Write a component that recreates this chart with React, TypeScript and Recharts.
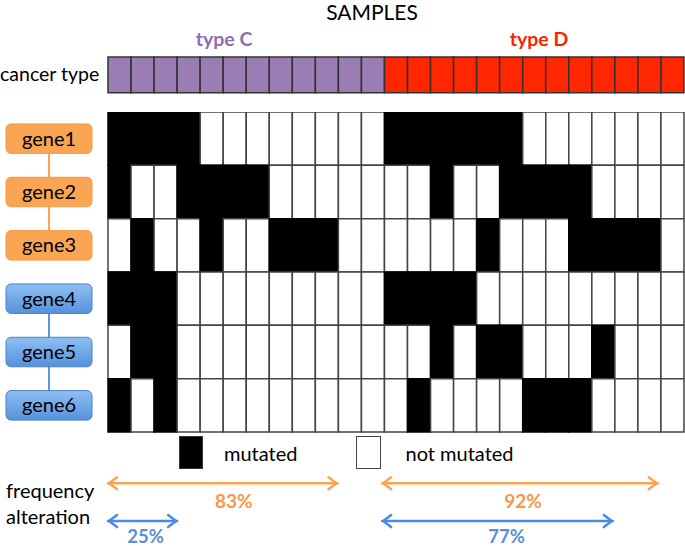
import { BarChart, Bar, Cell, XAxis, YAxis, ReferenceLine, Legend } from "recharts";

const FONT = "Lato, 'Open Sans', sans-serif";

const sampleIds = [
  "C1", "C2", "C3", "C4", "C5", "C6", "C7", "C8", "C9", "C10", "C11", "C12",
  "D1", "D2", "D3", "D4", "D5", "D6", "D7", "D8", "D9", "D10", "D11", "D12", "D13",
];
const cancerTypes = [
  "C", "C", "C", "C", "C", "C", "C", "C", "C", "C", "C", "C",
  "D", "D", "D", "D", "D", "D", "D", "D", "D", "D", "D", "D", "D",
];
const genes = ["gene1", "gene2", "gene3", "gene4", "gene5", "gene6"];
const geneGroups = ["A", "A", "A", "B", "B", "B"];

// 1 = mutated, 0 = not mutated (12 type C samples, then 13 type D)
const gene1 = [1, 1, 1, 1, 0, 0, 0, 0, 0, 0, 0, 0, 1, 1, 1, 1, 1, 1, 0, 0, 0, 0, 0, 0, 0];
const gene2 = [1, 0, 0, 1, 1, 1, 1, 0, 0, 0, 0, 0, 0, 0, 1, 0, 0, 1, 1, 1, 1, 0, 0, 0, 0];
const gene3 = [0, 1, 0, 0, 1, 0, 0, 1, 1, 1, 0, 0, 0, 0, 0, 0, 1, 0, 0, 0, 1, 1, 1, 1, 0];
const gene4 = [1, 1, 1, 0, 0, 0, 0, 0, 0, 0, 0, 0, 1, 1, 1, 1, 0, 0, 0, 0, 0, 0, 0, 0, 0];
const gene5 = [0, 1, 1, 0, 0, 0, 0, 0, 0, 0, 0, 0, 0, 0, 1, 0, 1, 1, 0, 0, 0, 1, 0, 0, 0];
const gene6 = [1, 0, 1, 0, 0, 0, 0, 0, 0, 0, 0, 0, 0, 1, 0, 0, 0, 0, 1, 1, 1, 0, 0, 0, 0];
const mutations = [gene1, gene2, gene3, gene4, gene5, gene6];

// alteration frequency per cancer type (%)
const freqTypes = ["C", "D"];
const freqGroupA = [83, 92];
const freqGroupB = [25, 77];

const W = 685;
const H = 546;
const M_TOP = 112;
const M_BOTTOM = 7.3;
const Y_MAX = 8;
const ROW_PX = (H - M_TOP - M_BOTTOM) / Y_MAX;

const ORANGE = "#f9a553";
const ORANGE_TXT = "#f7984a";
const BLUE = "#4c89ea";
const BLUE_TXT = "#5b8fd8";
const typeFill: Record<string, string> = { C: "#9a7db5", D: "#ff2600" };

// label nudges for the percentage texts (px)
const shiftA = [11, 3];
const shiftB = [3, 9];

const data = sampleIds.map((id, i) => {
  const row: any = { id, type: cancerTypes[i], one: 1 };
  genes.forEach((_, g) => {
    row[`r${g}`] = 1;
    row[`m${g}`] = mutations[g][i];
  });
  return row;
});

const groupStart = (t: string) => cancerTypes.indexOf(t) - (t === "C" ? 0 : 0.1);
const groupSize = (t: string) => cancerTypes.filter((c) => c === t).length;

const arrowShape = (color: string) => (props: any) => {
  const { x1, y1, x2, y2 } = props;
  const h = 9;
  const w = 6;
  return (
    <g stroke={color} strokeWidth={2.5} fill="none" strokeLinecap="round" strokeLinejoin="round">
      <line x1={x1} y1={y1} x2={x2} y2={y2} />
      <polyline points={`${x1 + h},${y1 - w} ${x1 + 1},${y1} ${x1 + h},${y1 + w}`} />
      <polyline points={`${x2 - h},${y2 - w} ${x2 - 1},${y2} ${x2 - h},${y2 + w}`} />
    </g>
  );
};

const GeneTick = (props: any) => {
  const { x, y, payload } = props;
  const gi = Math.floor(payload.value);
  const group = geneGroups[gi];
  const isA = group === "A";
  const bw = 86;
  const bh = 29.5;
  const cx = x - bw / 2;
  const sameNext = gi + 1 < genes.length && geneGroups[gi + 1] === group;
  const gid = `gb${gi}`;
  return (
    <g>
      <defs>
        <linearGradient id={gid} x1="0" y1="0" x2="0" y2="1">
          <stop offset="0%" stopColor="#8fbff3" />
          <stop offset="100%" stopColor="#5592dc" />
        </linearGradient>
      </defs>
      {sameNext && (
        <line
          x1={cx}
          y1={y}
          x2={cx}
          y2={y + ROW_PX}
          stroke={isA ? ORANGE : "#5d96d9"}
          strokeWidth={2}
        />
      )}
      <rect
        x={x - bw}
        y={y - bh / 2}
        width={bw}
        height={bh}
        rx={5}
        fill={isA ? ORANGE : `url(#${gid})`}
        stroke={isA ? "#f29a48" : "#4a82c8"}
        strokeWidth={1}
      />
      <text x={cx} y={y + 7} textAnchor="middle" fontSize={20} fontFamily={FONT} fill="#000">
        {genes[gi]}
      </text>
    </g>
  );
};

const MutationLegend = () => (
  <div style={{ display: "flex", alignItems: "center", fontFamily: FONT, fontSize: 20, color: "#000" }}>
    <div style={{ width: 24, height: 33, background: "#000", boxSizing: "border-box", border: "1px solid #333" }} />
    <span style={{ marginLeft: 21, marginRight: 59 }}>mutated</span>
    <div style={{ width: 25, height: 33, background: "#fff", boxSizing: "border-box", border: "1.5px solid #444" }} />
    <span style={{ marginLeft: 24 }}>not mutated</span>
  </div>
);

export default function App() {
  return (
    <div style={{ position: "absolute", left: 0, top: 0, width: W, height: H, background: "#fff", fontFamily: FONT }}>
      <div style={{ position: "absolute", left: 0, top: 0 }}>
        <BarChart
          width={W}
          height={100}
          data={data}
          margin={{ top: 57, right: 1, bottom: 7.3, left: 108 }}
          barCategoryGap={0}
          barGap={0}
        >
          <XAxis dataKey="id" hide />
          <YAxis hide domain={[0, 1]} />
          <Bar dataKey="one" stroke="#333" strokeWidth={1.5} isAnimationActive={false}>
            {data.map((d) => (
              <Cell key={d.id} fill={typeFill[d.type]} />
            ))}
          </Bar>
        </BarChart>
      </div>
      <div style={{ position: "absolute", left: 0, top: 0 }}>
        <BarChart
          width={W}
          height={H}
          data={data}
          margin={{ top: M_TOP, right: 1, bottom: M_BOTTOM, left: 0 }}
          barCategoryGap={0}
          barGap={0}
        >
          <XAxis dataKey="id" hide />
          <XAxis
            xAxisId="n"
            dataKey="one"
            type="number"
            domain={[0, sampleIds.length]}
            allowDataOverflow
            hide
          />
          <YAxis
            type="number"
            reversed
            domain={[0, Y_MAX]}
            allowDataOverflow
            width={108}
            ticks={genes.map((_, i) => i + 0.5)}
            interval={0}
            axisLine={false}
            tickLine={false}
            tickSize={0}
            tickMargin={16}
            tick={<GeneTick />}
          />
          {genes.map((g, gi) => (
            <Bar
              key={g}
              dataKey={`r${gi}`}
              stackId="m"
              strokeWidth={1.5}
              isAnimationActive={false}
            >
              {data.map((d) => (
                <Cell
                  key={d.id}
                  fill={d[`m${gi}`] ? "#000" : "#fff"}
                  stroke={d[`m${gi}`] ? "#000" : "#444"}
                />
              ))}
            </Bar>
          ))}
          {freqTypes.map((t, i) => {
            const x0 = groupStart(t);
            const x1 = x0 + (freqGroupA[i] / 100) * groupSize(t);
            return (
              <ReferenceLine
                key={`a${t}`}
                xAxisId="n"
                segment={[{ x: x0, y: 6.96 }, { x: x1, y: 6.96 }]}
                shape={arrowShape(ORANGE)}
                label={{ value: `${freqGroupA[i]}%`, position: "bottom", offset: 11, dx: shiftA[i], fill: ORANGE_TXT, fontSize: 19, fontWeight: 700, fontFamily: FONT }}
              />
            );
          })}
          {freqTypes.map((t, i) => {
            const x0 = groupStart(t);
            const x1 = x0 + (freqGroupB[i] / 100) * groupSize(t);
            return (
              <ReferenceLine
                key={`b${t}`}
                xAxisId="n"
                segment={[{ x: x0, y: 7.67 }, { x: x1, y: 7.67 }]}
                shape={arrowShape(BLUE)}
                label={{ value: `${freqGroupB[i]}%`, position: "bottom", offset: 9, dx: shiftB[i], fill: BLUE_TXT, fontSize: 18.5, fontWeight: 700, fontFamily: FONT }}
              />
            );
          })}
          <Legend
            verticalAlign="middle"
            layout="horizontal"
            content={<MutationLegend />}
            wrapperStyle={{ top: 436, left: 179, width: "auto" }}
          />
        </BarChart>
      </div>
      <svg width={W} height={H} style={{ position: "absolute", left: 0, top: 0, pointerEvents: "none" }} fontFamily={FONT}>
        <text x={372} y={20} textAnchor="middle" fontSize={21} fill="#000">SAMPLES</text>
        <text x={224} y={45.5} textAnchor="middle" fontSize={19.5} fontWeight={700} fill="#8f6db3">type C</text>
        <text x={539} y={45.5} textAnchor="middle" fontSize={19.5} fontWeight={700} fill="#ff1f00">type D</text>
        <text x={0} y={81} fontSize={19.5} fill="#000">cancer type</text>
        <text x={6} y={497.5} fontSize={20} fill="#000">frequency</text>
        <text x={6} y={523.5} fontSize={20} fill="#000">alteration</text>
      </svg>
    </div>
  );
}
